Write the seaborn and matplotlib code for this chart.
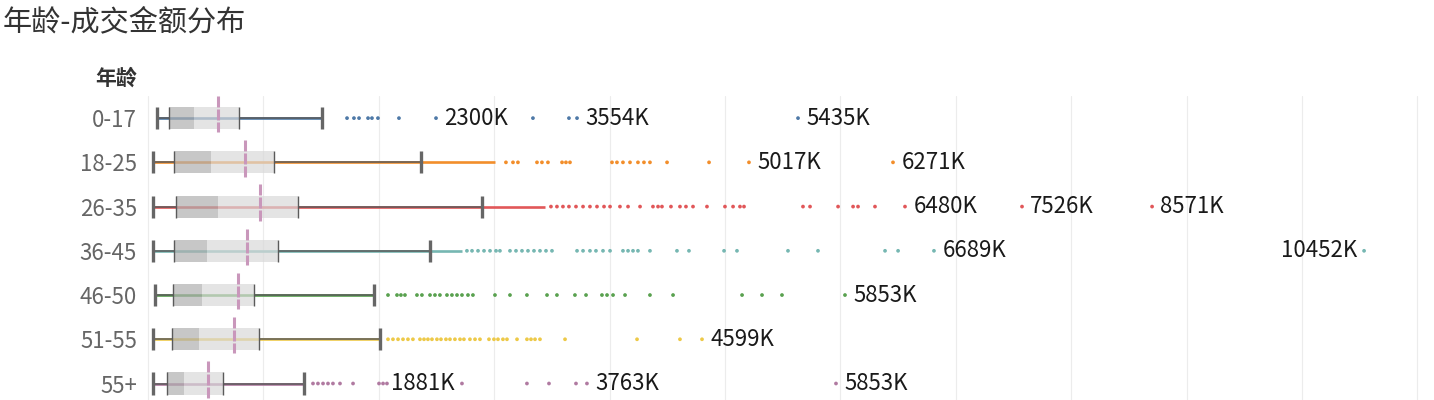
import seaborn as sns
import matplotlib.pyplot as plt
import pandas as pd

ages = ['0-17', '18-25', '26-35', '36-45', '46-50', '51-55', '55+']

# box-plot stats per age group, amounts in K
whis_lo = [75, 41, 41, 46, 61, 41, 41]
q1 = [185, 228, 243, 228, 214, 211, 162]
med = [399, 543, 604, 509, 465, 445, 315]
q3 = [789, 1092, 1302, 1124, 919, 962, 653]
whis_hi = [1508, 2366, 2894, 2444, 1961, 2011, 1352]
mean_val = [604, 843, 971, 855, 777, 745, 523]
# the points are so dense up to here that they read as one line
dense_end = [1508, 3007, 3440, 2721, 1961, 2011, 1352]

# the sparse points past the dense run
pts_0_17 = [1725, 1785, 1829, 1907, 1941, 1993, 2175, 2496, 3336, 3648, 3718, 5633]
pts_18_25 = [3102, 3163, 3206, 3371, 3414, 3466, 3588, 3622, 3657, 4021, 4064, 4116,
             4177, 4246, 4298, 4350, 4498, 4862, 5208, 6456]
pts_26_35 = [3492, 3544, 3596, 3648, 3709, 3770, 3830, 3891, 3952, 4004, 4090, 4160,
             4264, 4376, 4420, 4454, 4532, 4610, 4662, 4723, 4844, 5000, 5070, 5130,
             5165, 5676, 5737, 5980, 6110, 6153, 6300, 6560, 7574, 8701]
pts_36_45 = [2764, 2808, 2860, 2912, 2964, 3016, 3050, 3137, 3189, 3241, 3293, 3345,
             3397, 3449, 3501, 3718, 3770, 3830, 3882, 3943, 4004, 4116, 4160, 4203,
             4246, 4350, 4584, 4688, 4992, 5104, 5546, 5806, 6387, 6500, 6811, 10538]
pts_46_50 = [2080, 2158, 2192, 2227, 2331, 2374, 2444, 2487, 2530, 2591, 2634, 2678,
             2721, 2773, 2816, 3007, 3137, 3284, 3458, 3544, 3700, 3796, 3934, 3978,
             4030, 4134, 4350, 4550, 5148, 5321, 5494, 6040]
pts_51_55 = [2080, 2123, 2167, 2210, 2253, 2296, 2357, 2392, 2426, 2461, 2504, 2539,
             2582, 2617, 2660, 2704, 2738, 2790, 2834, 2877, 2955, 2998, 3033, 3076,
             3111, 3198, 3284, 3319, 3354, 3397, 3614, 4238, 4610, 4801]
pts_55_plus = [1430, 1473, 1517, 1560, 1603, 1664, 1777, 2002, 2037, 2071, 2721, 3284,
               3475, 3709, 3804, 5962]

# mark labels
lab_age = ['0-17', '0-17', '0-17', '18-25', '18-25', '26-35', '26-35', '26-35',
           '36-45', '36-45', '46-50', '51-55', '55+', '55+', '55+']
lab_val = [2496, 3718, 5633, 5208, 6456, 6560, 7574, 8701, 6811, 10538, 6040, 4801,
           2721, 3804, 5962]
lab_txt = ['2300K', '3554K', '5435K', '5017K', '6271K', '6480K', '7526K', '8571K',
           '6689K', '10452K', '5853K', '4599K', '1881K', '3763K', '5853K']

all_pts = [pts_0_17, pts_18_25, pts_26_35, pts_36_45, pts_46_50, pts_51_55, pts_55_plus]
df = pd.DataFrame({'age': [a for a, p in zip(ages, all_pts) for _ in p],
                   'amount': [v for p in all_pts for v in p]})

palette = ['#4e79a7', '#f28e2b', '#e15759', '#76b7b2', '#59a14f', '#edc948', '#b07aa1']

sns.set_theme(style='white')
plt.rcParams['font.family'] = ['Noto Sans CJK SC', 'DejaVu Sans']

fig = plt.figure(figsize=(14.34, 4.0), dpi=100)
ax = fig.add_axes([146 / 1434, 0, 1282 / 1434, 304 / 400])

rows = list(range(len(ages)))

# dense run as a line under everything
ax.hlines(rows, whis_lo, dense_end, colors=palette, lw=1.9, zorder=1)

sns.stripplot(data=df, x='amount', y='age', hue='age', order=ages, hue_order=ages,
              palette=palette, jitter=False, size=2.7, linewidth=0, legend=False,
              ax=ax, zorder=2)

# two-tone box
lo_w = [m - a for m, a in zip(med, q1)]
hi_w = [b - m for m, b in zip(med, q3)]
ax.barh(rows, lo_w, left=q1, height=0.5, color='#b0b0b0', alpha=0.7, lw=0, zorder=3)
ax.barh(rows, hi_w, left=med, height=0.5, color='#d9d9d9', alpha=0.7, lw=0, zorder=3)

edge = '#5a5a5a'
ax.hlines(rows, whis_lo, q1, color=edge, lw=1.1, zorder=4)
ax.hlines(rows, q3, whis_hi, color=edge, lw=1.1, zorder=4)
top = [r - 0.25 for r in rows]
bot = [r + 0.25 for r in rows]
ax.vlines(q1, top, bot, color=edge, lw=1.0, zorder=4)
ax.vlines(q3, top, bot, color=edge, lw=1.0, zorder=4)
ax.vlines(whis_lo, top, bot, color='#666666', lw=2.4, zorder=5)
ax.vlines(whis_hi, top, bot, color='#666666', lw=2.4, zorder=5)

# mean reference line
ax.vlines(mean_val, [r - 0.5 for r in rows], [r + 0.32 for r in rows],
          color='#c997bb', lw=2.2, linestyles=(0, (3.6, 0.65)), zorder=6)

left_side = {'10452K', '1881K'}
for a, v, t in zip(lab_age, lab_val, lab_txt):
    r = ages.index(a)
    if t in left_side:
        ax.annotate(t, (v, r), xytext=(-5, 0), textcoords='offset points',
                    ha='right', va='center', fontsize=16, color='#1a1a1a', zorder=7)
    else:
        ax.annotate(t, (v, r), xytext=(6, 0), textcoords='offset points',
                    ha='left', va='center', fontsize=16, color='#1a1a1a', zorder=7)

ax.set_xlim(-17, 11092)
ax.set_ylim(6.373, -0.5)
ax.set_xticks(range(0, 12000, 1000))
ax.grid(axis='x', color='#ececec', lw=0.8)
ax.set_axisbelow(True)
ax.tick_params(axis='x', length=0, labelbottom=False)
ax.set_yticks(rows)
ax.set_yticklabels(ages)
ax.tick_params(axis='y', length=0, pad=6.5, labelsize=16, labelcolor='#666666')
ax.set_xlabel('')
ax.set_ylabel('')
sns.despine(ax=ax, left=True, bottom=True)

fig.text(3 / 1434, 1 - 7 / 400, '年龄-成交金额分布', fontsize=21, color='#333333',
         ha='left', va='top')
fig.text(95 / 1434, 1 - 78 / 400, '年龄', fontsize=15, fontweight='bold',
         color='#333333', ha='left', va='center')

fig.savefig('out.png', dpi=100)
